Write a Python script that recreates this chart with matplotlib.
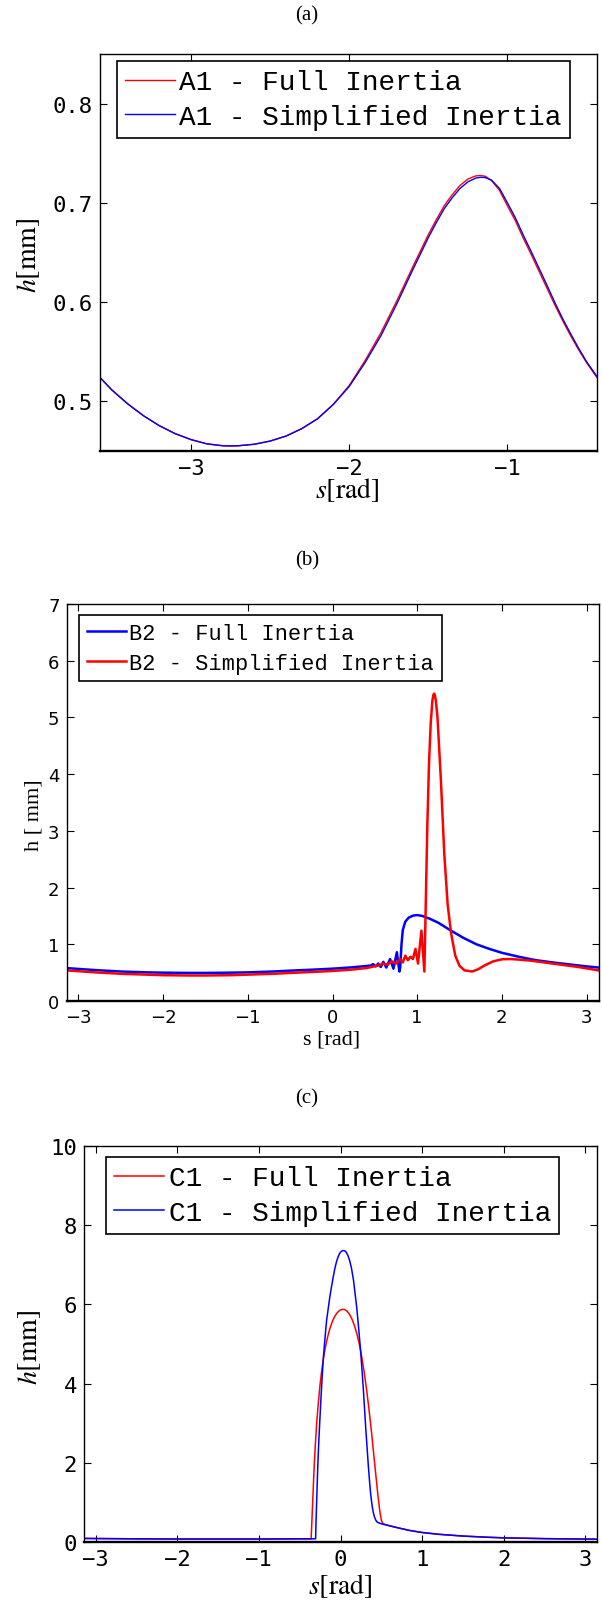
import numpy as np
import matplotlib
matplotlib.use("Agg")
import matplotlib.pyplot as plt

plt.rcParams['mathtext.fontset'] = 'stix'

W, H = 602, 1606

# ---- panel (a): A1 ----
a_s = [-3.575, -3.5, -3.4, -3.3, -3.2, -3.1, -3.0, -2.9, -2.8, -2.75,
       -2.7, -2.6, -2.5, -2.4, -2.3, -2.2, -2.1, -2.0, -1.9, -1.8,
       -1.7, -1.6, -1.5, -1.45, -1.4, -1.35, -1.3, -1.25, -1.2, -1.17,
       -1.14, -1.1, -1.05, -1.0, -0.95, -0.9, -0.85, -0.8, -0.75, -0.7,
       -0.65, -0.6, -0.55, -0.5, -0.434]
a_full_h = [0.524, 0.5115, 0.4975, 0.4855, 0.4755, 0.4675, 0.4615, 0.4572, 0.4553, 0.4551,
            0.4553, 0.4568, 0.4600, 0.4650, 0.4725, 0.4825, 0.4970, 0.516, 0.541, 0.569,
            0.601, 0.635, 0.668, 0.683, 0.697, 0.708, 0.7175, 0.724, 0.7272, 0.7276,
            0.7268, 0.7225, 0.7125, 0.697, 0.682, 0.6645, 0.648, 0.631, 0.614, 0.597,
            0.581, 0.566, 0.552, 0.539, 0.524]
a_simp_h = [0.524, 0.5115, 0.4975, 0.4855, 0.4755, 0.4675, 0.4615, 0.4572, 0.4553, 0.4551,
            0.4553, 0.4568, 0.4600, 0.4650, 0.4725, 0.4825, 0.4970, 0.515, 0.539, 0.566,
            0.598, 0.632, 0.665, 0.680, 0.694, 0.705, 0.7145, 0.7212, 0.7250, 0.7258,
            0.7255, 0.7228, 0.7145, 0.700, 0.685, 0.6675, 0.651, 0.634, 0.617, 0.5995,
            0.583, 0.568, 0.5535, 0.540, 0.525]

# ---- panel (b): B2 ----
b_full_s = [-3.1416, -2.8, -2.5, -2.2, -2.0, -1.7, -1.5, -1.2, -1.0, -0.7, -0.5, -0.2, 0.0, 0.2,
            0.35, 0.45, 0.48, 0.51, 0.54, 0.57, 0.6, 0.635, 0.68, 0.72, 0.76, 0.79, 0.80, 0.815,
            0.83, 0.86, 0.9, 0.95, 1.0, 1.06, 1.15, 1.25, 1.4, 1.55, 1.7, 1.85, 2.0, 2.2, 2.4,
            2.6, 2.8, 3.0, 3.1416]
b_full_h = [0.58, 0.545, 0.52, 0.505, 0.5, 0.495, 0.495, 0.5, 0.505, 0.52, 0.535, 0.555, 0.57,
            0.59, 0.61, 0.625, 0.65, 0.61, 0.66, 0.60, 0.69, 0.59, 0.74, 0.57, 0.86, 0.52, 0.60,
            1.0, 1.25, 1.4, 1.47, 1.505, 1.515, 1.5, 1.45, 1.38, 1.24, 1.11, 1.0, 0.92, 0.85,
            0.78, 0.72, 0.68, 0.645, 0.61, 0.59]
b_simp_s = [-3.1416, -2.8, -2.5, -2.2, -2.0, -1.7, -1.5, -1.2, -1.0, -0.7, -0.5, -0.2, 0.0, 0.2,
            0.4, 0.55, 0.6, 0.65, 0.7, 0.75, 0.8, 0.83, 0.86, 0.89, 0.92, 0.95, 0.98, 1.01, 1.05,
            1.085, 1.10, 1.12, 1.14, 1.16, 1.18, 1.19, 1.2, 1.21, 1.22, 1.24, 1.28, 1.32, 1.36,
            1.40, 1.45, 1.5, 1.56, 1.65, 1.72, 1.8, 1.9, 2.0, 2.1, 2.2, 2.35, 2.5, 2.7, 2.9, 3.1416]
b_simp_h = [0.54, 0.505, 0.48, 0.465, 0.455, 0.45, 0.45, 0.455, 0.465, 0.48, 0.495, 0.515, 0.53,
            0.55, 0.58, 0.63, 0.66, 0.64, 0.70, 0.66, 0.74, 0.68, 0.80, 0.72, 0.78, 0.74, 0.92,
            0.66, 1.24, 0.52, 1.6, 3.1, 4.2, 4.9, 5.3, 5.39, 5.42, 5.39, 5.3, 5.0, 3.9, 2.6, 1.7,
            1.2, 0.8, 0.62, 0.54, 0.52, 0.56, 0.63, 0.7, 0.735, 0.74, 0.73, 0.71, 0.68, 0.64,
            0.6, 0.54]

# ---- panel (c): C1 ----
c_full_s = [-3.1416, -2.5, -2.0, -1.5, -1.0, -0.5, -0.36, -0.355, -0.35, -0.34, -0.33, -0.32,
            -0.31, -0.29, -0.27, -0.25, -0.23, -0.21, -0.19, -0.17, -0.15, -0.13, -0.1, -0.07,
            -0.04, -0.01, 0.02, 0.05, 0.08, 0.11, 0.14, 0.17, 0.2, 0.23, 0.26, 0.29, 0.32, 0.35,
            0.38, 0.41, 0.44, 0.46, 0.48, 0.5, 0.52, 0.6, 0.7, 0.85, 1.0, 1.2, 1.5, 1.8, 2.0,
            2.5, 3.1416]
c_full_h = [0.09, 0.08, 0.075, 0.075, 0.075, 0.08, 0.08, 0.3, 0.55, 1.05, 1.55, 2.0,
            2.4, 3.05, 3.55, 3.98, 4.33, 4.62, 4.86, 5.07, 5.24, 5.39, 5.57, 5.7,
            5.79, 5.85, 5.875, 5.87, 5.83, 5.75, 5.63, 5.47, 5.26, 5.0, 4.68, 4.29, 3.84, 3.33,
            2.77, 2.15, 1.55, 1.15, 0.8, 0.55, 0.46, 0.41, 0.36, 0.29, 0.24, 0.195, 0.15, 0.12,
            0.105, 0.085, 0.07]
c_simp_s = [-3.1416, -2.5, -2.0, -1.5, -1.0, -0.5, -0.305, -0.30, -0.29, -0.28, -0.27, -0.255,
            -0.24, -0.225, -0.21, -0.19, -0.17, -0.15, -0.13, -0.11, -0.09, -0.07, -0.05, -0.03,
            -0.01, 0.01, 0.03, 0.05, 0.07, 0.09, 0.11, 0.134, 0.16, 0.18, 0.2, 0.22, 0.245,
            0.265, 0.28, 0.295, 0.31, 0.325, 0.34, 0.355, 0.37, 0.385, 0.4, 0.415, 0.43, 0.45,
            0.5, 0.6, 0.7, 0.85, 1.0, 1.2, 1.5, 1.8, 2.0, 2.5, 3.1416]
c_simp_h = [0.09, 0.08, 0.075, 0.075, 0.075, 0.08, 0.08, 0.5, 1.15, 1.8, 2.35, 3.0,
            3.6, 4.15, 4.65, 5.15, 5.6, 5.9, 6.2, 6.45, 6.68, 6.9, 7.07, 7.2,
            7.29, 7.34, 7.36, 7.355, 7.32, 7.24, 7.12, 6.92, 6.6, 6.25, 5.9, 5.45, 4.86,
            4.3, 3.85, 3.35, 2.85, 2.4, 1.95, 1.55, 1.2, 0.95, 0.76, 0.64, 0.56, 0.5,
            0.46, 0.41, 0.36, 0.29, 0.24, 0.195, 0.15, 0.12, 0.105, 0.085, 0.07]


def rect(l, t, r, b):
    return [l / W, 1 - b / H, (r - l) / W, (b - t) / H]


def ftext(x, y, s, **kw):
    fig.text(x / W, 1 - y / H, s, ha='center', va='center', **kw)


def style(ax, tickfont, ticksize):
    ax.tick_params(direction='in', top=True, right=True, length=5, width=0.8,
                   pad=5, labelsize=ticksize)
    for lab in ax.get_xticklabels() + ax.get_yticklabels():
        lab.set_family(tickfont)
    for sp in ax.spines.values():
        sp.set_linewidth(1.0)
    ax.spines['bottom'].set_linewidth(1.7)


def legend(ax, anchor, size, spacing, pad):
    leg = ax.legend(loc='upper left', bbox_to_anchor=anchor, borderaxespad=0,
                    prop={'family': 'Liberation Mono', 'size': size}, fancybox=False,
                    edgecolor='black', framealpha=1, handlelength=1.8, handletextpad=0.15,
                    borderpad=pad, labelspacing=spacing)
    leg.get_frame().set_linewidth(1.2)


fig = plt.figure(figsize=(W / 100, H / 100), dpi=100)

# (a)
ax = fig.add_axes(rect(100, 55, 597, 452))
ax.plot(a_s, a_full_h, color='#ff0000', lw=1.0, label='A1 - Full Inertia')
ax.plot(a_s, a_simp_h, color='#0000ff', lw=1.0, label='A1 - Simplified Inertia')
ax.set_xlim(-3.575, -0.434)
ax.set_ylim(0.45, 0.85)
ax.set_xticks([-3, -2, -1])
ax.set_yticks([0.5, 0.6, 0.7, 0.8])
style(ax, 'DejaVu Sans Mono', 16)
legend(ax, (0.034, 0.982), 20, 0.3, 0.3)
ftext(307, 16, '(a)', family='Liberation Serif', fontsize=15)
ftext(347, 490, r'$s[\mathrm{rad}]$', fontsize=20)
ftext(28, 255, r'$h[\mathrm{mm}]$', fontsize=20, rotation=90)

# (b)
ax = fig.add_axes(rect(66.5, 605, 598.5, 1002))
ax.plot(b_full_s, b_full_h, color='#0000ff', lw=1.8, label='B2 - Full Inertia')
ax.plot(b_simp_s, b_simp_h, color='#ff0000', lw=1.8, label='B2 - Simplified Inertia')
ax.set_xlim(-np.pi, np.pi)
ax.set_ylim(0, 7)
ax.set_xticks(range(-3, 4))
ax.set_yticks(range(0, 8))
style(ax, 'DejaVu Sans', 13)
legend(ax, (0.0235, 0.972), 15.8, 0.4, 0.35)
ftext(307, 561, '(b)', family='Liberation Serif', fontsize=15)
ftext(332, 1040, 's [rad]', family='Liberation Serif', fontsize=16)
ftext(34, 815, 'h [ mm]', family='Liberation Serif', fontsize=16, rotation=90)

# (c)
ax = fig.add_axes(rect(84, 1147, 597, 1543))
ax.plot(c_full_s, c_full_h, color='#ff0000', lw=1.1, label='C1 - Full Inertia')
ax.plot(c_simp_s, c_simp_h, color='#0000ff', lw=1.1, label='C1 - Simplified Inertia')
ax.set_xlim(-np.pi, np.pi)
ax.set_ylim(0, 10)
ax.set_xticks(range(-3, 4))
ax.set_yticks(range(0, 11, 2))
style(ax, 'DejaVu Sans Mono', 16)
legend(ax, (0.043, 0.972), 20, 0.3, 0.3)
ftext(307, 1099, '(c)', family='Liberation Serif', fontsize=15)
ftext(340, 1586, r'$s[\mathrm{rad}]$', fontsize=20)
ftext(29, 1347, r'$h[\mathrm{mm}]$', fontsize=20, rotation=90)

fig.savefig('out.png', dpi=100)
